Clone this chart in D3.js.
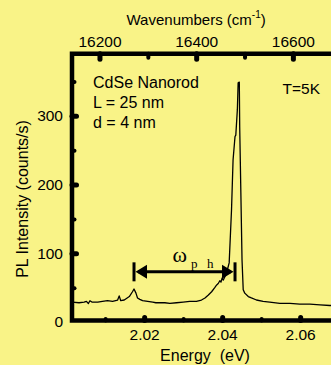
<!DOCTYPE html>
<html>
<head>
<meta charset="utf-8">
<script src="https://cdn.jsdelivr.net/npm/d3@7"></script>
<style>
  body { margin: 0; background: #f9f387; }
  svg { display: block; font-family: "Liberation Sans", Arial, sans-serif; }
</style>
</head>
<body>
<script>
// PL spectrum (eV, counts/s)
const energy = [2.0015, 2.0033, 2.0046, 2.0052, 2.0057, 2.0061, 2.0066, 2.0081, 2.0093, 2.0106,
  2.0119, 2.0132, 2.0136, 2.0140, 2.0149, 2.0162, 2.0170, 2.0174, 2.0179, 2.0183,
  2.0189, 2.0196, 2.0209, 2.0222, 2.0230, 2.0240, 2.0253, 2.0266, 2.0283, 2.0300,
  2.0317, 2.0334, 2.0347, 2.0356, 2.0364, 2.0373, 2.0381, 2.0386, 2.0390, 2.0394,
  2.0397, 2.0400, 2.0403, 2.0407, 2.0411, 2.0418, 2.0424, 2.0428, 2.0433, 2.0435,
  2.0439, 2.0441, 2.0444, 2.0445, 2.0448, 2.0451, 2.0454, 2.0458, 2.0467, 2.0475,
  2.0488, 2.0505, 2.0522, 2.0548, 2.0574, 2.0599, 2.0625, 2.0651, 2.0676, 2.0700];
const counts = [29, 28, 29, 30, 27, 31, 29, 29, 30, 31,
  30, 32, 38, 31, 32, 37, 44, 48, 42, 35,
  33, 31, 30, 29, 28, 28, 28, 27, 28, 29,
  30, 30, 32, 35, 39, 44, 50, 54, 56, 60,
  58, 64, 61, 66, 71, 86, 163, 236, 270, 272,
  309, 348, 349, 284, 187, 90, 47, 42, 37, 35,
  32, 30, 29, 27, 27, 26, 26, 25, 24, 24];

const energyMajor = [2.02, 2.04, 2.06];
const energyMinor = [2.01, 2.03, 2.05, 2.07];
const wavenumberMajor = [16200, 16400, 16600];
const wavenumberMinor = [16300, 16500];
const intensityMajor = [0, 100, 200, 300];
const intensityMinor = [50, 150, 250, 350];

const phononEnds = [2.0174, 2.0433];  // ω_ph arrow, eV
const phononLevel = 73;               // counts/s

const width = 331, height = 365;
const eVtoWavenumber = 8065.54;
const plotLeft = 72, plotTop = 53.7, plotBottom = 320.5;

const x = d3.scaleLinear().domain([2.0015, 2.07]).range([plotLeft, plotLeft + 0.0685 * 3900]);
const xTop = d3.scaleLinear().domain(x.domain().map(e => e * eVtoWavenumber)).range(x.range());
const y = d3.scaleLinear().domain([0, 390]).range([322, 54]);

const svg = d3.select("body").append("svg")
  .attr("width", width)
  .attr("height", height);

svg.append("clipPath").attr("id", "plot")
  .append("rect").attr("x", plotLeft).attr("y", plotTop).attr("width", 300).attr("height", plotBottom - plotTop);

// spectrum
const line = d3.line().x((d, i) => x(energy[i])).y(d => y(d));
svg.append("path")
  .datum(counts)
  .attr("clip-path", "url(#plot)")
  .attr("fill", "none")
  .attr("stroke", "#000")
  .attr("stroke-width", 1.3)
  .attr("stroke-linejoin", "round")
  .attr("d", line);

// axes: dots pointing inward
function styleAxis(g, w) {
  g.select(".domain").remove();
  g.selectAll(".tick line").attr("stroke", "#000").attr("stroke-width", w).attr("stroke-linecap", "round");
  g.selectAll(".tick text").attr("fill", "#000");
}

function addAxis(axisFn, scale, pos, major, minor, majLen, minLen, pad, fmt) {
  const gMin = svg.append("g").attr("transform", pos)
    .call(axisFn(scale).tickValues(minor).tickSizeInner(-minLen).tickSizeOuter(0).tickFormat(""));
  styleAxis(gMin, 4);
  const gMaj = svg.append("g").attr("transform", pos)
    .call(axisFn(scale).tickValues(major).tickSizeInner(-majLen).tickSizeOuter(0).tickPadding(pad).tickFormat(fmt))
    .attr("font-size", 15.5).attr("font-family", "Liberation Sans, Arial, sans-serif");
  styleAxis(gMaj, 5);
  return gMaj;
}

addAxis(d3.axisBottom, x, `translate(0,${plotBottom})`, energyMajor, energyMinor, 3, 1.5, 8, d3.format(".2f"));
addAxis(d3.axisTop, xTop, `translate(0,${plotTop})`, wavenumberMajor, wavenumberMinor, 5.5, 4, 7, d3.format("d"));
const gLeft = addAxis(d3.axisLeft, y, `translate(${plotLeft},0)`, intensityMajor, intensityMinor, 4.5, 2.5, 9, d3.format("d"));
gLeft.selectAll(".tick").filter(d => d === 0).select("line").remove();

// frame
svg.append("path")
  .attr("d", `M${width + 5},${plotTop}H${plotLeft}V${plotBottom}H${width + 5}`)
  .attr("fill", "none")
  .attr("stroke", "#000")
  .attr("stroke-width", 4.5)
  .attr("stroke-linejoin", "miter");

// axis titles
const topTitle = svg.append("text").attr("x", 126.5).attr("y", 25).attr("font-size", 15);
topTitle.append("tspan").text("Wavenumbers (cm");
topTitle.append("tspan").attr("font-size", 10).attr("dy", -7).text("-1");
topTitle.append("tspan").attr("dy", 7).text(")");

svg.append("text")
  .attr("x", 205).attr("y", 361)
  .attr("text-anchor", "middle")
  .attr("font-size", 16)
  .style("white-space", "pre")
  .text("Energy  (eV)");

svg.append("text")
  .attr("transform", "translate(28,199) rotate(-90)")
  .attr("text-anchor", "middle")
  .attr("font-size", 16)
  .text("PL Intensity (counts/s)");

// sample annotations
const notes = ["CdSe Nanorod", "L = 25 nm", "d = 4 nm"];
svg.append("g").selectAll("text").data(notes).join("text")
  .attr("x", 93).attr("y", (d, i) => 88 + i * 20)
  .attr("font-size", 16)
  .text(d => d);

svg.append("text").attr("x", 282.5).attr("y", 93.5).attr("font-size", 15.5).text("T=5K");

// phonon arrow
const ay = y(phononLevel), ax0 = x(phononEnds[0]), ax1 = x(phononEnds[1]);
const arrow = svg.append("g").attr("stroke", "#000");
arrow.append("line").attr("x1", ax0 + 4).attr("x2", ax1 - 4).attr("y1", ay).attr("y2", ay).attr("stroke-width", 3);
arrow.selectAll("line.bar").data([ax0, ax1]).join("line").attr("class", "bar")
  .attr("x1", d => d).attr("x2", d => d).attr("y1", ay - 9.5).attr("y2", ay + 9.5).attr("stroke-width", 3);
arrow.append("path").attr("stroke", "none").attr("fill", "#000")
  .attr("d", `M${ax0 + 1.5},${ay}L${ax0 + 13},${ay - 7}L${ax0 + 13},${ay + 7}Z M${ax1 - 1.5},${ay}L${ax1 - 13},${ay - 7}L${ax1 - 13},${ay + 7}Z`);

const omega = svg.append("text").attr("font-family", "Liberation Serif, Times New Roman, serif").attr("x", 172.5).attr("y", 262);
omega.append("tspan").attr("font-size", 22).text("ω");
omega.append("tspan").attr("font-size", 13).attr("x", 191).attr("dy", 6).text("p");
omega.append("tspan").attr("font-size", 13).attr("x", 207).text("h");
</script>
</body>
</html>
